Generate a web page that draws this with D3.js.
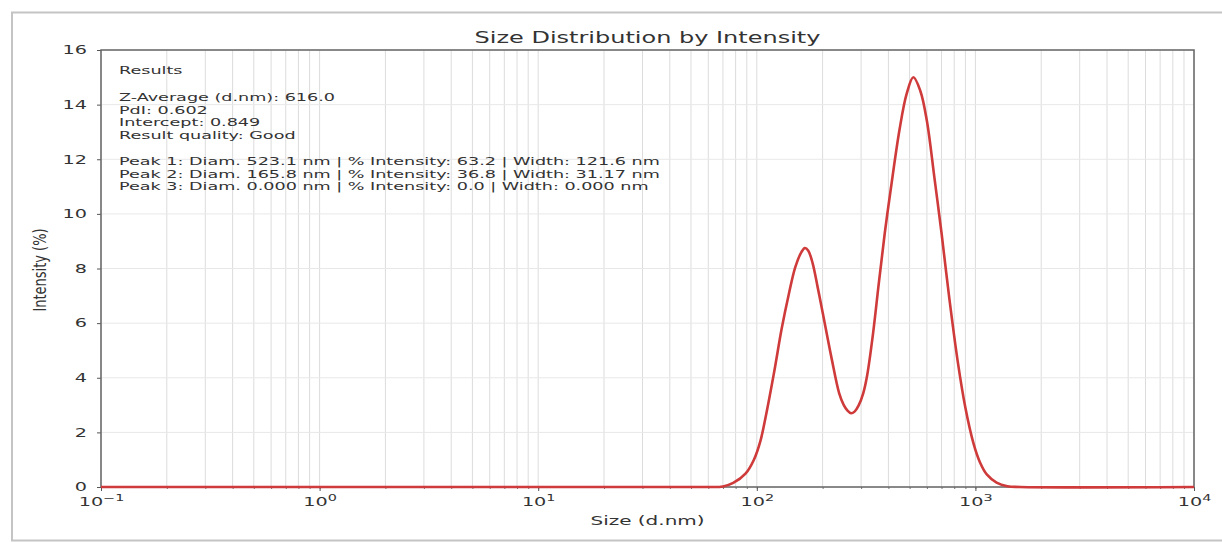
<!DOCTYPE html>
<html>
<head>
<meta charset="utf-8">
<script src="https://cdn.jsdelivr.net/npm/d3@7"></script>
<style>
  body { margin: 0; background: #fff; }
  text { font-family: "DejaVu Sans", sans-serif; fill: #333; }
</style>
</head>
<body>
<div id="chart"></div>
<script>
// data
var sizes = [0.1, 40, 60, 70, 78, 89, 97, 104, 110, 120, 130, 140, 150, 160, 166, 172, 180, 190, 200, 220, 238, 250, 260, 270,
             280, 292, 307, 320, 340, 362, 385, 410, 450, 485, 520, 560, 600, 650, 700, 760, 830, 900, 980, 1050, 1130, 1250, 1400, 1600, 10000];
var intensity = [0, 0, 0, 0.02, 0.15, 0.5, 1.0, 1.7, 2.6, 4.2, 5.8, 7.05, 8.05, 8.6, 8.75, 8.65, 8.2, 7.3, 6.4, 4.7, 3.44, 3.0, 2.8, 2.7,
                 2.76, 2.98, 3.44, 4.1, 5.6, 7.5, 9.3, 10.9, 13.1, 14.4, 15.0, 14.5, 13.4, 11.3, 9.3, 6.9, 4.6, 2.9, 1.6, 0.9, 0.45, 0.16, 0.03, 0, 0];

var yTicks = [0, 2, 4, 6, 8, 10, 12, 14, 16];
var xTickExps = [-1, 0, 1, 2, 3, 4];

var titleText = "Size Distribution by Intensity";
var xLabel = "Size (d.nm)";
var yLabel = "Intensity (%)";
var resultsHeader = "Results";
var summaryLines = ["Z-Average (d.nm): 616.0", "PdI: 0.602", "Intercept: 0.849", "Result quality: Good"];
var peakLines = [
  "Peak 1: Diam. 523.1 nm | % Intensity: 63.2 | Width: 121.6 nm",
  "Peak 2: Diam. 165.8 nm | % Intensity: 36.8 | Width: 31.17 nm",
  "Peak 3: Diam. 0.000 nm | % Intensity: 0.0 | Width: 0.000 nm"
];

// frame
var svgWidth = 1222;
var svgHeight = 543;
var Margin = { top: 50, right: 28, bottom: 56, left: 101 };
var width = svgWidth - Margin.left - Margin.right;
var height = svgHeight - Margin.top - Margin.bottom;
var sx = 1.6; // the picture is stretched sideways

var svg = d3.select("#chart").append("svg")
  .attr("width", svgWidth)
  .attr("height", svgHeight);

// outer border of the figure
svg.append("rect")
  .attr("x", 12).attr("y", 12.5)
  .attr("width", 1220).attr("height", 528)
  .attr("fill", "none")
  .attr("stroke", "#c4c4c4")
  .attr("stroke-width", 2);

var chartGroup = svg.append("g")
  .attr("transform", `translate(${Margin.left}, ${Margin.top})`);

var xScale = d3.scaleLog().domain([0.1, 10000]).range([0, width]);
var yScale = d3.scaleLinear().domain([0, 16]).range([height, 0]);

// grid
chartGroup.append("g").selectAll("line")
  .data(xScale.ticks())
  .enter().append("line")
  .attr("x1", d => xScale(d)).attr("x2", d => xScale(d))
  .attr("y1", 0).attr("y2", height)
  .attr("stroke", "#dcdcdc")
  .attr("stroke-width", 1);

chartGroup.append("g").selectAll("line")
  .data(yTicks)
  .enter().append("line")
  .attr("x1", 0).attr("x2", width)
  .attr("y1", d => yScale(d)).attr("y2", d => yScale(d))
  .attr("stroke", "#e8e8e8")
  .attr("stroke-width", 1);

// minor + major ticks on x
chartGroup.append("g")
  .attr("transform", `translate(0, ${height})`)
  .call(d3.axisBottom(xScale).tickValues(xScale.ticks()).tickSize(2).tickFormat(""))
  .call(g => g.select(".domain").remove())
  .selectAll("line").attr("stroke", "#777");

var xAxis = chartGroup.append("g")
  .attr("transform", `translate(0, ${height})`)
  .call(d3.axisBottom(xScale).tickValues(xTickExps.map(e => Math.pow(10, e))).tickSize(4).tickFormat(""));
xAxis.select(".domain").remove();
xAxis.selectAll("line").attr("stroke", "#555");

xAxis.selectAll(".tick").each(function(d, i) {
  var t = d3.select(this).append("text")
    .attr("y", 19)
    .attr("text-anchor", "middle")
    .attr("font-size", "12px")
    .attr("transform", `scale(${sx},1)`)
    .style("fill", "#333");
  t.append("tspan").text("10");
  t.append("tspan").attr("dy", -5).attr("font-size", "9px").text(xTickExps[i] < 0 ? "\u2212" + Math.abs(xTickExps[i]) : xTickExps[i]);
});

// y axis
var yAxis = chartGroup.append("g")
  .call(d3.axisLeft(yScale).tickValues(yTicks).tickSize(4));
yAxis.select(".domain").remove();
yAxis.selectAll("line").attr("stroke", "#555");
yAxis.selectAll("text")
  .attr("x", -14 / sx)
  .attr("font-size", "12px")
  .attr("font-family", "DejaVu Sans, sans-serif")
  .attr("fill", "#333")
  .attr("transform", `scale(${sx},1)`);

// curve
var line = d3.line()
  .x((d, i) => xScale(sizes[i]))
  .y(d => yScale(d))
  .curve(d3.curveCatmullRom.alpha(0.5));

// spines
chartGroup.append("rect")
  .attr("x", 0).attr("y", 0)
  .attr("width", width).attr("height", height)
  .attr("fill", "none")
  .attr("stroke", "#666")
  .attr("stroke-width", 1.5);

chartGroup.append("path")
  .datum(intensity)
  .attr("d", line)
  .attr("fill", "none")
  .attr("stroke", "#cf3a3a")
  .attr("stroke-width", 2.6);

// texts
function stretchedText(x, y, str, size, anchor) {
  return svg.append("g")
    .attr("transform", `translate(${x}, ${y}) scale(${sx},1)`)
    .append("text")
    .attr("text-anchor", anchor || "start")
    .attr("font-size", size)
    .text(str);
}

stretchedText(Margin.left + width / 2, 43, titleText, "15px", "middle");
stretchedText(Margin.left + width / 2, 525, xLabel, "12.5px", "middle");

svg.append("g")
  .attr("transform", `translate(46, 270) scale(1.3,1) rotate(-90)`)
  .append("text")
  .attr("text-anchor", "middle")
  .attr("font-size", "13px")
  .text(yLabel);

stretchedText(119, 74, resultsHeader, "11px");
summaryLines.forEach(function(s, i) {
  stretchedText(119, 101 + i * 12.7, s, "11px");
});
peakLines.forEach(function(s, i) {
  stretchedText(119, 165 + i * 12.7, s, "11px");
});
</script>
</body>
</html>
